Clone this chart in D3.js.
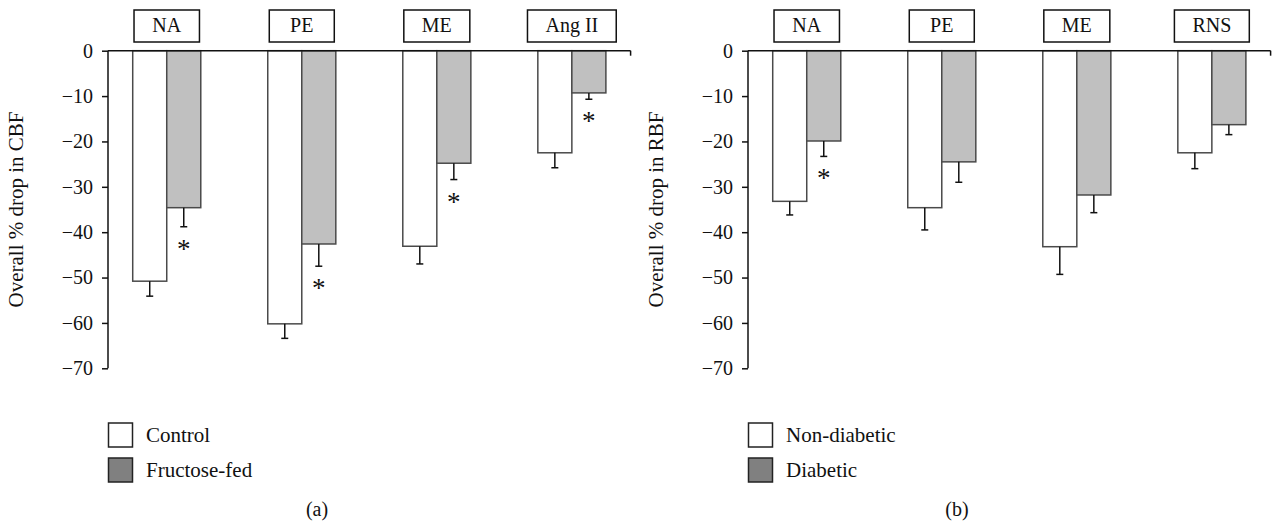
<html>
  <head>
    <title>Overall % drop in CBF / RBF</title>
    <script type="text/javascript" src="https://cdn.jsdelivr.net/npm/d3@7"></script>
    <style>
      body { margin: 0; background: #fff; }
    </style>
  </head>
  <body>
    <svg id="chart" width="1272" height="523"></svg>
    <script type="text/javascript">
      // panel (a): cerebral blood flow
      var groupsA = ["NA", "PE", "ME", "Ang II"];
      var controlA = [-50.8, -60.2, -43.1, -22.5];
      var controlErrA = [3.3, 3.2, 3.9, 3.3];
      var fructoseA = [-34.6, -42.6, -24.8, -9.3];
      var fructoseErrA = [4.2, 4.9, 3.6, 1.4];
      var starsA = [true, true, true, true];

      // panel (b): renal blood flow
      var groupsB = ["NA", "PE", "ME", "RNS"];
      var nonDiabetic = [-33.2, -34.6, -43.2, -22.5];
      var nonDiabeticErr = [3.0, 4.9, 6.1, 3.5];
      var diabetic = [-19.9, -24.5, -31.8, -16.3];
      var diabeticErr = [3.4, 4.5, 3.9, 2.2];
      var starsB = [true, false, false, false];

      var yTicks = [0, -10, -20, -30, -40, -50, -60, -70];

      var serif = "'Liberation Serif', 'Times New Roman', serif";
      var svg = d3.select("#chart");
      svg.append("rect").attr("width", "100%").attr("height", "100%").attr("fill", "white");

      function panel(ox, groups, first, firstErr, second, secondErr, stars, yTitle, names, tag) {
        var g = svg.append("g").attr("transform", "translate(" + ox + ",0)");

        var x = d3.scaleBand().domain(groups).range([108, 630.6])
            .paddingInner(0.496).paddingOuter(0.183);
        var sub = d3.scaleBand().domain([0, 1]).range([0, x.bandwidth()]);
        var y = d3.scaleLinear().domain([0, -70]).range([50.7, 368.3]);

        // y axis
        var yAxis = g.append("g").attr("transform", "translate(108,0)")
            .call(d3.axisLeft(y).tickValues(yTicks).tickSize(6).tickPadding(9)
              .tickFormat(function(d) { return d === 0 ? "0" : "\u2212" + Math.abs(d); }));
        yAxis.select(".domain").attr("stroke", "#111").attr("stroke-width", 1.5).attr("d", "M0," + y(0) + "V" + y(-70));
        yAxis.selectAll(".tick line").attr("stroke", "#111").attr("stroke-width", 1.5);
        yAxis.selectAll(".tick text").attr("font-size", 20).attr("fill", "#111");

        g.append("text")
            .attr("transform", "translate(23," + (y(0) + y(-70)) / 2 + ") rotate(-90)")
            .attr("text-anchor", "middle").attr("font-size", 21)
            .text(yTitle);

        var rows = groups.map(function(k, i) {
          return [
            {k: k, s: 0, v: first[i], e: firstErr[i], star: false},
            {k: k, s: 1, v: second[i], e: secondErr[i], star: stars[i]}
          ];
        });
        var bars = d3.merge(rows);

        g.selectAll("rect.bar").data(bars).enter().append("rect")
            .attr("class", "bar")
            .attr("x", function(d) { return x(d.k) + sub(d.s); })
            .attr("y", y(0))
            .attr("width", sub.bandwidth())
            .attr("height", function(d) { return y(d.v) - y(0); })
            .attr("fill", function(d) { return d.s ? "#c0c0c0" : "#fff"; })
            .attr("stroke", "#4a4a4a").attr("stroke-width", 1.5);

        // error bars
        var err = g.selectAll("g.err").data(bars).enter().append("g").attr("class", "err")
            .attr("stroke", "#111").attr("stroke-width", 1.5);
        err.append("line")
            .attr("x1", function(d) { return x(d.k) + sub(d.s) + sub.bandwidth() / 2; })
            .attr("x2", function(d) { return x(d.k) + sub(d.s) + sub.bandwidth() / 2; })
            .attr("y1", function(d) { return y(d.v); })
            .attr("y2", function(d) { return y(d.v - d.e); });
        err.append("line")
            .attr("x1", function(d) { return x(d.k) + sub(d.s) + sub.bandwidth() / 2 - 3.5; })
            .attr("x2", function(d) { return x(d.k) + sub(d.s) + sub.bandwidth() / 2 + 3.5; })
            .attr("y1", function(d) { return y(d.v - d.e); })
            .attr("y2", function(d) { return y(d.v - d.e); });

        g.selectAll("text.star").data(bars.filter(function(d) { return d.star; })).enter().append("text")
            .attr("class", "star")
            .attr("x", function(d) { return x(d.k) + sub(d.s) + sub.bandwidth() / 2; })
            .attr("y", function(d) { return y(d.v - d.e) + 31; })
            .attr("text-anchor", "middle").attr("font-size", 27)
            .text("*");

        // zero line along the top
        g.append("line").attr("x1", 108).attr("x2", 630.6).attr("y1", y(0)).attr("y2", y(0))
            .attr("stroke", "#111").attr("stroke-width", 1.5);
        g.append("line").attr("x1", 630.6).attr("x2", 630.6).attr("y1", y(0)).attr("y2", y(0) + 5)
            .attr("stroke", "#111").attr("stroke-width", 1.5);

        // group label boxes
        var lab = g.selectAll("g.lab").data(groups).enter().append("g").attr("class", "lab");
        lab.append("text")
            .attr("x", function(d) { return x(d) + x.bandwidth() / 2; })
            .attr("y", 32)
            .attr("text-anchor", "middle").attr("font-size", 20)
            .style("font-family", serif)
            .text(function(d) { return d; });
        lab.insert("rect", "text")
            .each(function(d) {
              var t = d3.select(this.parentNode).select("text").node().getBBox();
              var w = Math.max(65, t.width + 36);
              d3.select(this)
                  .attr("x", x(d) + x.bandwidth() / 2 - w / 2)
                  .attr("y", 10).attr("width", w).attr("height", 32);
            })
            .attr("fill", "#fff").attr("stroke", "#111").attr("stroke-width", 1.5);

        // legend
        var leg = g.selectAll("g.leg").data(names).enter().append("g").attr("class", "leg")
            .attr("transform", function(d, i) { return "translate(108.5," + (423 + i * 35) + ")"; });
        leg.append("rect").attr("width", 24).attr("height", 24)
            .attr("fill", function(d, i) { return i ? "#808080" : "#fff"; })
            .attr("stroke", "#222").attr("stroke-width", 1.5);
        leg.append("text").attr("x", 37.5).attr("y", 19).attr("font-size", 21)
            .text(function(d) { return d; });

        g.append("text").attr("x", 317).attr("y", 516).attr("text-anchor", "middle")
            .attr("font-size", 20).text(tag);
      }

      panel(0, groupsA, controlA, controlErrA, fructoseA, fructoseErrA, starsA,
            "Overall % drop in CBF", ["Control", "Fructose-fed"], "(a)");
      panel(640, groupsB, nonDiabetic, nonDiabeticErr, diabetic, diabeticErr, starsB,
            "Overall % drop in RBF", ["Non-diabetic", "Diabetic"], "(b)");

      svg.selectAll("text").style("font-family", serif).style("fill", "#111");
    </script>
  </body>
</html>
